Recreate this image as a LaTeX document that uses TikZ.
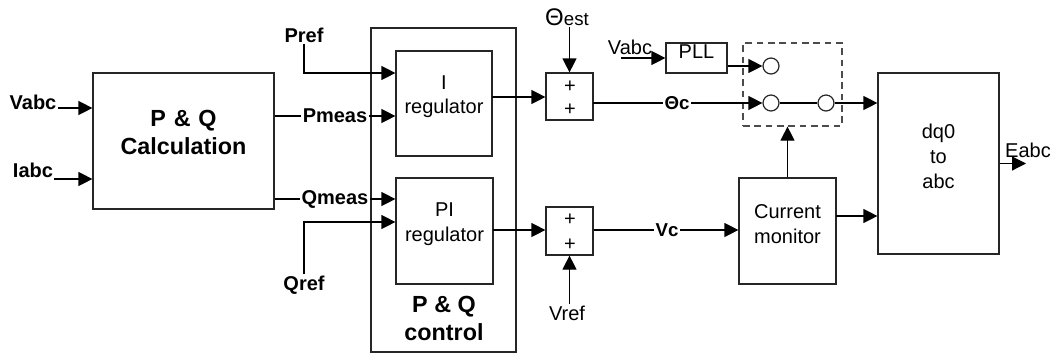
\documentclass[tikz,border=0pt]{standalone}
\usepackage{fontspec}
\setmainfont{Liberation Sans}
\usetikzlibrary{arrows.meta,fit}
\begin{document}
\begin{tikzpicture}[x=0.75pt,y=-0.75pt,
  box/.style={draw=black!85, line width=0.9pt, inner sep=0pt},
  arr/.style={-{Triangle[length=10.5pt,width=10.5pt]}, line width=0.9pt},
  ln/.style={line width=0.9pt},
  lbl/.style={font=\fontsize{15}{18}\selectfont\bfseries, inner sep=1pt},
  slbl/.style={font=\fontsize{14}{16}\selectfont\bfseries, inner sep=1pt, fill=white},
  txt/.style={font=\fontsize{15}{18.5}\selectfont, align=center},
  big/.style={font=\fontsize{17.5}{21}\selectfont\bfseries, align=center},
  node distance=0pt]
\useasboundingbox (0,0) rectangle (1057,354);

% blocks
\node[box, fit={(93,73)(274,209)}, big] (calc) {P \& Q\\Calculation};
\node[box, fit={(371,28)(516,352)}] (ctrl) {};
\node[big] (ctrltxt) at (444,318) {P \& Q\\control};
\node[box, fit={(396,51)(492,156)}, txt] (ireg) {I\\regulator};
\node[box, fit={(396,178)(493,284)}, txt] (pireg) {PI\\regulator};
\node[box, fit={(546,73)(593,120)}] (s1) {};
\node[txt] (s1a) at (570,87) {+};
\node[txt] (s1b) at (570,110) {+};
\node[box, fit={(546,207)(593,255)}] (s2) {};
\node[txt] (s2a) at (570,220) {+};
\node[txt] (s2b) at (570,245) {+};
\node[box, fit={(666,43)(727,73)}, txt] (pll) {PLL};
\node[draw=black!70, dashed, dash pattern=on 5pt off 3.5pt, line width=0.9pt, inner sep=0pt, fit={(743,43)(842,126)}] (dash) {};
\node[circle, draw=black!85, line width=0.9pt, minimum size=12pt, inner sep=0pt] (c1) at (771,66) {};
\node[circle, draw=black!85, line width=0.9pt, minimum size=12pt, inner sep=0pt] (c2) at (771,103) {};
\node[circle, draw=black!85, line width=0.9pt, minimum size=12pt, inner sep=0pt] (c3) at (826,103) {};
\node[box, fit={(878,73)(999,254)}, txt] (dq) {dq0\\to\\abc};
\node[box, fit={(739,178)(836,284)}, txt] (cm) {Current\\monitor};

% left inputs
\node[lbl] (vabc) at (33,102) {Vabc};
\coordinate (vin) at (58,108);
\draw[arr] (vin) -- (vin -| calc.west);
\node[lbl] (iabc) at (33,170) {Iabc};
\coordinate (iin) at (54,179);
\draw[arr] (iin) -- (iin -| calc.west);

% Pmeas / Qmeas
\node[lbl, fill=white] (pm) at (335,116) {Pmeas};
\draw[ln] (pm -| calc.east) -- (pm);
\draw[arr] (pm) -- (pm -| ireg.west);
\node[lbl, fill=white] (qm) at (335,199) {Qmeas};
\draw[ln] (qm -| calc.east) -- (qm);
\draw[arr] (qm) -- (qm -| pireg.west);

% Pref / Qref
\node[lbl] (pref) at (304,35) {Pref};
\coordinate (prefc) at (304,73);
\draw[arr] (pref.south) -- (prefc) -- (prefc -| ireg.west);
\node[lbl] (qref) at (304,285) {Qref};
\coordinate (qrefc) at (304,222);
\draw[arr] (qref.north) -- (qrefc) -- (qrefc -| pireg.west);

% regulators to sums
\coordinate (io) at (492,97);
\draw[arr] (io) -- (io -| s1.west);
\coordinate (pio) at (493,230);
\draw[arr] (pio) -- (pio -| s2.west);

% theta est / Vref
\node[inner sep=1pt] (test) at (567,17) {\fontsize{18}{20}\selectfont Θ\fontsize{14}{16}\selectfont est};
\draw[arr] (test.south -| s1.north) -- (s1.north);
\node[txt, inner sep=1pt] (vref) at (567,313) {Vref};
\draw[arr] (vref.north -| s2.south) -- (s2.south);

% theta c
\coordinate (s1o) at (593,103);
\node[slbl] (thc) at (677,103) {Θc};
\draw[ln] (s1o) -- (thc);
\draw[arr] (thc) -- (c2);
\draw[ln] (c2) -- (c3);
\draw[arr] (c3) -- (c3 -| dq.west);

% PLL
\node[txt, inner sep=1pt] (vabc2) at (630,47) {Vabc};
\coordinate (pllin) at (621,58);
\draw[arr] (pllin) -- (pllin -| pll.west);
\draw[arr] (c1 -| pll.east) -- (c1);

% Vc
\node[slbl] (vc) at (667,230) {Vc};
\draw[ln] (s2.east |- vc) -- (vc);
\draw[arr] (vc) -- (vc -| cm.west);

% current monitor
\draw[arr] (cm.north) -- (cm.north |- dash.south);
\coordinate (cmo) at (836,216);
\draw[arr] (cmo) -- (cmo -| dq.west);

% output
\coordinate (eout) at (1026,163.5);
\draw[arr] (dq.east |- eout) -- (eout);
\node[txt, inner sep=1pt] (eabc) at (1028,150) {Eabc};
\end{tikzpicture}
\end{document}
